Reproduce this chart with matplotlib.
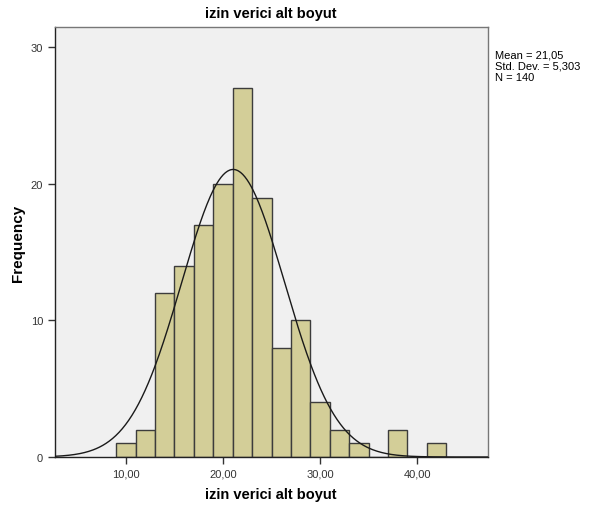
import numpy as np
import matplotlib
matplotlib.use("Agg")
import matplotlib.pyplot as plt

plt.rcParams['font.family'] = ['Liberation Sans', 'DejaVu Sans']

bin_edges = [9, 11, 13, 15, 17, 19, 21, 23, 25, 27, 29, 31, 33, 35, 37, 39, 41, 43]
counts = [1, 2, 12, 14, 17, 20, 27, 19, 8, 10, 4, 2, 1, 0, 2, 0, 1]
mean = 21.05
std = 5.303
n = 140
xticks = [10, 20, 30, 40]
xticklabels = ["10,00", "20,00", "30,00", "40,00"]
yticks = [0, 10, 20, 30]
title = "izin verici alt boyut"
xlabel = "izin verici alt boyut"
ylabel = "Frequency"
stats_text = "Mean = 21,05\nStd. Dev. = 5,303\nN = 140"

fig = plt.figure(figsize=(5.9, 5.1), dpi=100)
ax = fig.add_axes([55/590, 1-458/510, (488-55)/590, (458-28)/510])
ax.set_facecolor('#F0F0F0')

edges = np.array(bin_edges, dtype=float)
widths = np.diff(edges)
ax.bar(edges[:-1], counts, width=widths, align='edge', color='#D3CE98',
       edgecolor='#3C3C3C', linewidth=1.0, zorder=2)

xlim = (2.7, 47.3)
xs = np.linspace(xlim[0], xlim[1], 400)
bw = widths[0]
ys = n * bw / (std * np.sqrt(2*np.pi)) * np.exp(-0.5*((xs-mean)/std)**2)
ax.plot(xs, ys, color='#1a1a1a', linewidth=1.0, zorder=3)

ax.set_xlim(*xlim)
ax.set_ylim(0, 31.5)
ax.set_xticks(xticks)
ax.set_xticklabels(xticklabels)
ax.set_yticks(yticks)
ax.tick_params(axis='both', labelsize=8, colors='#333333', length=5, width=1)
for lab in ax.get_xticklabels() + ax.get_yticklabels():
    lab.set_color('#333333')

for side in ['left', 'bottom']:
    ax.spines[side].set_color('#222222')
    ax.spines[side].set_linewidth(1.0)
for side in ['top', 'right']:
    ax.spines[side].set_color('#777777')
    ax.spines[side].set_linewidth(1.0)

fig.text(271/590, 1-14/510, title, ha='center', va='center', fontsize=10.5, fontweight='bold')
fig.text(271/590, 1-495/510, xlabel, ha='center', va='center', fontsize=10.5, fontweight='bold')
fig.text(18/590, 1-243/510, ylabel, ha='center', va='center', fontsize=11, fontweight='bold', rotation=90)
fig.text(495/590, 1-51/510, stats_text, ha='left', va='top', fontsize=8, linespacing=1.1)

fig.savefig('out.png', dpi=100)
